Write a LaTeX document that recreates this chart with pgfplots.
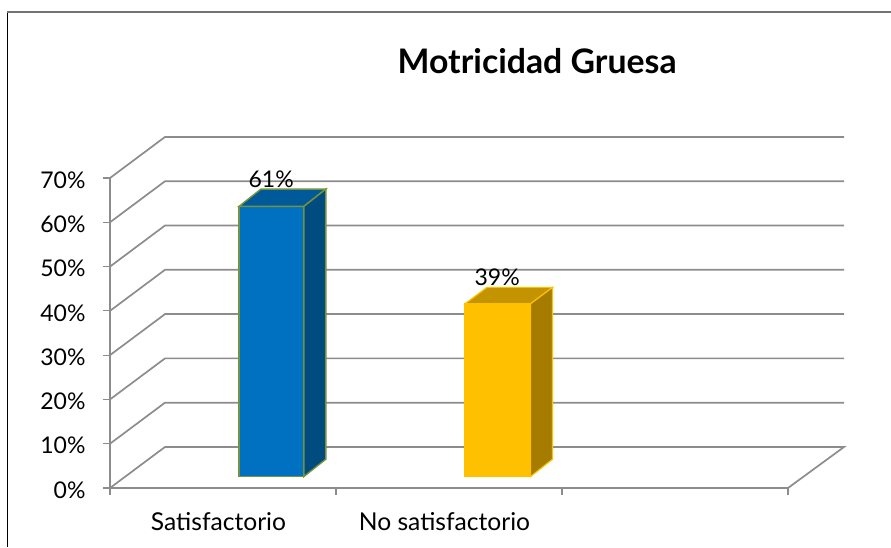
\documentclass[border=0pt]{standalone}
\usepackage{fontspec}
\setmainfont{Lato}
\usepackage{pgfplots}
\pgfplotsset{compat=1.18}
\definecolor{gridc}{HTML}{8C8C8C}
\definecolor{bluef}{HTML}{0070C0}
\definecolor{bluet}{HTML}{005A9A}
\definecolor{blues}{HTML}{004B80}
\definecolor{yelf}{HTML}{FFC000}
\definecolor{yelt}{HTML}{C49300}
\definecolor{yels}{HTML}{A67C00}
\definecolor{olive}{HTML}{76923C}
\begin{document}
\begin{tikzpicture}[x=1pt,y=1pt]
\path[use as bounding box] (0,0) rectangle (891,547);
\draw[black,line width=1pt] (7.5,0) -- (7.5,535);
\draw[gray!90!black,line width=1.3pt] (7,535) -- (891,535);
\begin{axis}[
  at={(110pt,59pt)}, anchor=south west,
  scale only axis, width=678pt, height=310pt,
  xmin=0, xmax=3, ymin=0, ymax=70,
  clip=false,
  axis x line=bottom, axis y line=left,
  axis line style={-, draw=gridc, line width=1.8pt},
  xtick={0,1,2,3}, xticklabels={},
  extra x ticks={0.48,1.48},
  extra x tick labels={Satisfactorio,No satisfactorio},
  extra x tick style={major tick length=0pt, xticklabel style={yshift=-21pt, font=\fontsize{24.6}{27}\selectfont}},
  ytick={0,10,...,70},
  yticklabel={\pgfmathprintnumber{\tick}\%},
  /pgf/number format/assume math mode=true,
  tick style={draw=gridc, line width=1.2pt},
  major tick length=7pt,
  tick align=outside,
  xtick pos=bottom, ytick pos=left,
  tick label style={font=\fontsize{23}{26}\selectfont, text=black},
  yticklabel style={xshift=-14pt, yshift=-2pt},
  title style={at={(0.63,1)}, anchor=center, yshift=111pt, font=\fontsize{33.8}{38}\selectfont\bfseries},
  title={Motricidad Gruesa},
]
% back wall and floor lines
\addplot[draw=gridc,line width=1.7pt] coordinates {(0,0) (0.2434,9.27) (3.248,9.27) (3,0)};
\addplot[draw=gridc,line width=1.7pt] coordinates {(0,10) (0.2434,19.27) (3.248,19.27)};
\addplot[draw=gridc,line width=1.7pt] coordinates {(0,20) (0.2434,29.27) (3.248,29.27)};
\addplot[draw=gridc,line width=1.7pt] coordinates {(0,30) (0.2434,39.27) (3.248,39.27)};
\addplot[draw=gridc,line width=1.7pt] coordinates {(0,40) (0.2434,49.27) (3.248,49.27)};
\addplot[draw=gridc,line width=1.7pt] coordinates {(0,50) (0.2434,59.27) (3.248,59.27)};
\addplot[draw=gridc,line width=1.7pt] coordinates {(0,60) (0.2434,69.27) (3.248,69.27)};
\addplot[draw=gridc,line width=1.7pt] coordinates {(0,70) (0.2434,79.27) (3.248,79.27)};
% Satisfactorio 61
\addplot[draw=olive,fill=bluef,line width=1.4pt] coordinates {(0.571,2.6) (0.858,2.6) (0.858,63.6) (0.571,63.6)} -- cycle;
\addplot[draw=olive,fill=bluet,line width=1.4pt] coordinates {(0.571,63.6) (0.858,63.6) (0.955,67.5) (0.668,67.5)} -- cycle;
\addplot[draw=olive,fill=blues,line width=1.4pt] coordinates {(0.858,2.6) (0.955,6.5) (0.955,67.5) (0.858,63.6)} -- cycle;
% No satisfactorio 39
\addplot[draw=yelf,fill=yelf,line width=1.2pt] coordinates {(1.571,2.6) (1.861,2.6) (1.861,41.6) (1.571,41.6)} -- cycle;
\addplot[draw=yelf,fill=yelt,line width=1.2pt] coordinates {(1.571,41.6) (1.861,41.6) (1.958,45.3) (1.668,45.3)} -- cycle;
\addplot[draw=yelf,fill=yels,line width=1.2pt] coordinates {(1.861,2.6) (1.958,6.5) (1.958,45.3) (1.861,41.6)} -- cycle;
% value labels
\addplot[only marks, mark=none, point meta=explicit symbolic,
  nodes near coords, nodes near coords align={center},
  every node near coord/.append style={font=\fontsize{23}{26}\selectfont, text=black}]
  coordinates {(0.713,69.8)[61\%] (1.713,47.6)[39\%]};
\end{axis}
\end{tikzpicture}
\end{document}
